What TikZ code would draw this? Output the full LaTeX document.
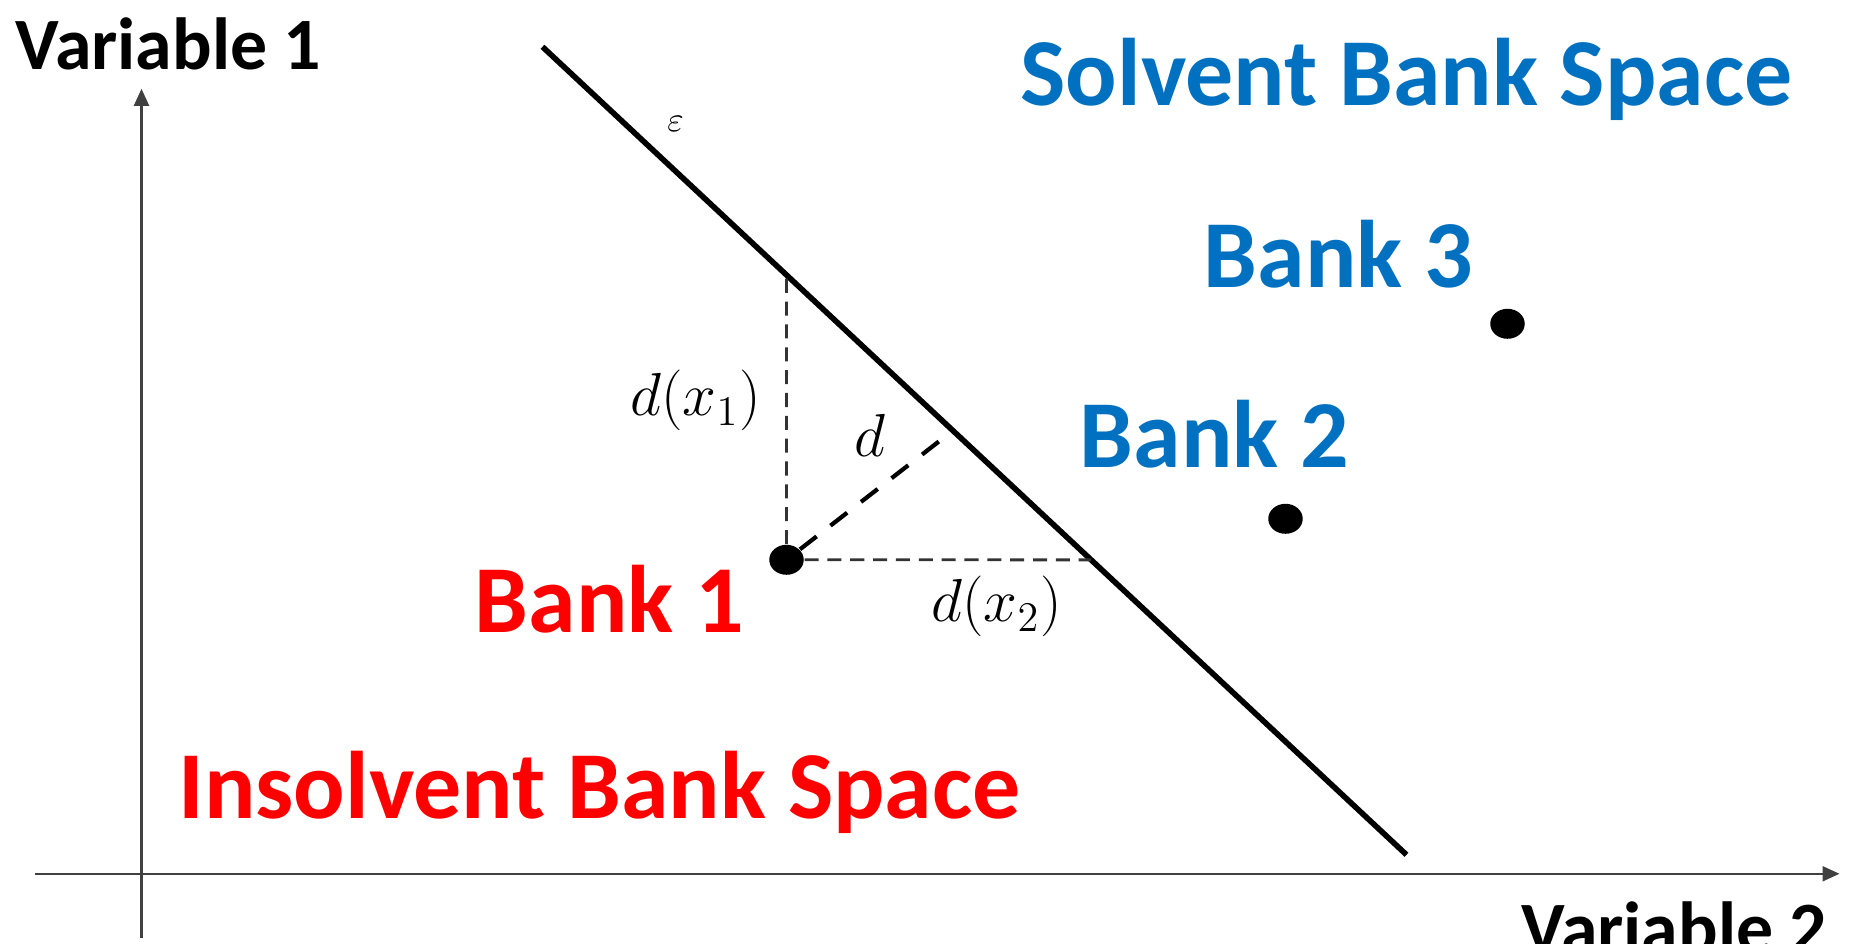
\documentclass[tikz,border=0pt]{standalone}
\usepackage{fontspec}
\setmainfont{Carlito}
\usepackage{amsmath}
\usetikzlibrary{arrows.meta, positioning, calc}
\colorlet{solventblue}{rgb,255:red,0;green,112;blue,192}
\colorlet{insolventred}{rgb,255:red,255;green,0;blue,0}
\tikzset{
  axis/.style={black!75, line width=0.6pt, -{Triangle[length=0.17cm, width=0.15cm]}},
  bigtext/.style={font=\fontsize{27.3}{32}\selectfont\bfseries},
  bankdot/.style={ellipse-ish, fill=black},
  ellipse-ish/.style={circle, inner sep=0pt, minimum size=0.3cm, xscale=1.15},
}
\begin{document}
\begin{tikzpicture}
    \useasboundingbox (-1.415,-0.702) rectangle (17.075,8.738);
    \clip (-1.415,-0.702) rectangle (17.075,8.738);
    % axes
    \draw[axis] (-1.06,0) -- (16.98,0);
    \draw[axis] (0,-0.64) -- (0,7.85);
    \node[font=\fontsize{21}{25}\selectfont\bfseries] (var1) at (0.27,8.30) {Variable 1};
    \node[font=\fontsize{21}{25}\selectfont\bfseries, anchor=base] (var2) at (15.33,-0.80) {Variable 2};
    % separating line
    \coordinate (top) at (4.01,8.27);
    \coordinate (bot) at (12.65,0.19);
    \draw[line width=1.6pt] (top) -- (bot);
    \path (top) -- (bot) coordinate[pos=0.2824] (fx1) coordinate[pos=0.635] (fx2) coordinate[pos=0.475] (fd);
    \node[font=\normalsize] (eps) at (5.34,7.50) {$\varepsilon$};
    % banks
    \node[bankdot] (b1) at (6.45,3.14) {};
    \node[bankdot] (b2) at (11.44,3.55) {};
    \node[bankdot] (b3) at (13.66,5.50) {};
    \draw[dashed, black!80, line width=0.8pt, dash pattern=on 4pt off 2.5pt] (b1) -- (fx1);
    \draw[dashed, black!80, line width=0.8pt, dash pattern=on 4pt off 2.5pt] (b1) -- (fx2);
    \draw[line width=1.2pt, dash pattern=on 6pt off 5pt] (b1) -- (fd);
    \node[font=\fontsize{17}{20}\selectfont] (dx1) at (5.54,4.73) {$d(x_1)$};
    \node[font=\fontsize{17}{20}\selectfont] (dlab) at (7.28,4.38) {$d$};
    \node[font=\fontsize{17}{20}\selectfont] (dx2) at (8.55,2.67) {$d(x_2)$};
    % labels
    \node[bigtext, insolventred] (bank1) at (4.68,2.75) {Bank 1};
    \node[bigtext, solventblue] (bank2) at (10.73,4.40) {Bank 2};
    \node[bigtext, solventblue] (bank3) at (11.97,6.20) {Bank 3};
    \node[bigtext, solventblue] (solvent) at (12.65,7.94) {Solvent Bank Space};
    \node[bigtext, insolventred] (insolvent) at (4.58,0.81) {Insolvent Bank Space};
  \end{tikzpicture}
\end{document}
